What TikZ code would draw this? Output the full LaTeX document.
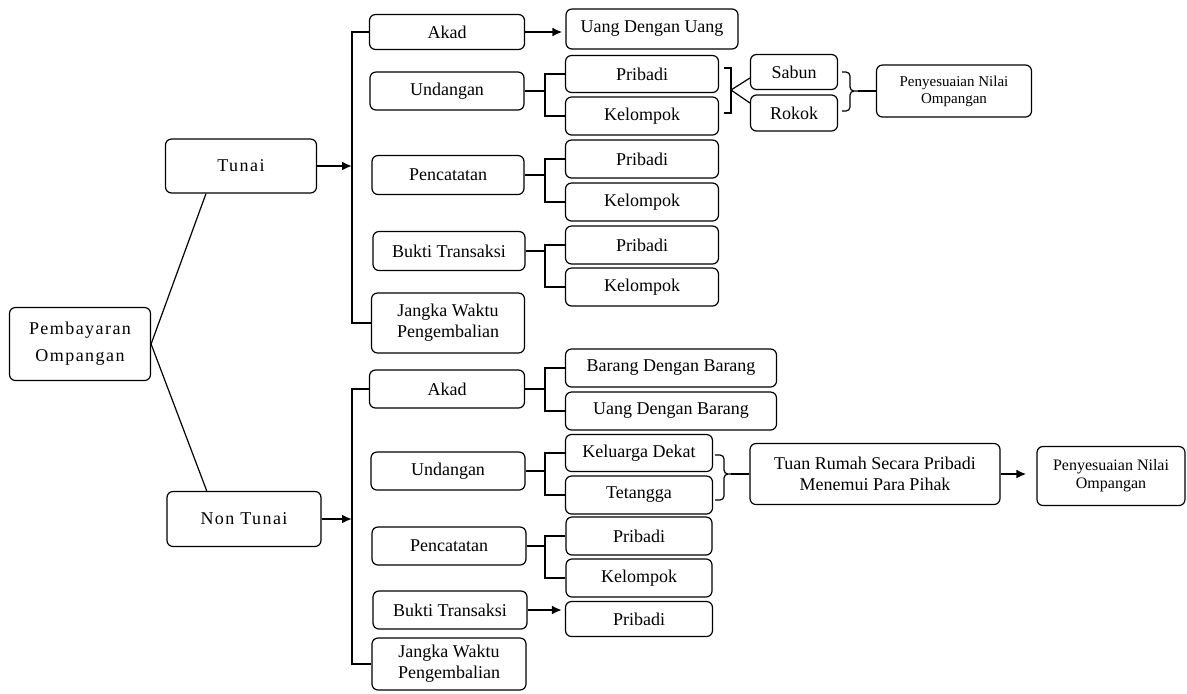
\documentclass[tikz,border=0pt]{standalone}
\usepackage{fontspec}
\setmainfont{Liberation Serif}
\usetikzlibrary{calc, arrows.meta}

\tikzset{
  mainbox/.style={draw, rounded corners=3pt, line width=0.6pt, align=center, inner sep=1pt,
    font=\fontsize{9}{10.5}\selectfont},
  spacedbox/.style={mainbox, font=\fontsize{9}{13.5}\selectfont\addfontfeature{LetterSpace=8}},
  notebox/.style={mainbox, font=\fontsize{7.5}{8.5}\selectfont},
  wh/.style 2 args={minimum width=#1*0.5pt, minimum height=#2*0.5pt},
  fork/.style={line width=1.3pt},
  thinline/.style={line width=0.6pt},
  arr/.style={line width=1.3pt, -{Latex[length=5pt, width=4.5pt]}},
}

\begin{document}
\begin{tikzpicture}[x=0.5pt, y=-0.5pt]
  \useasboundingbox (0,0) rectangle (1187,693);
  % root and the two kinds of payment
  \node[spacedbox, wh={141}{73}] (pemb) at (80,344) {Pembayaran\\Ompangan};
  \node[spacedbox, wh={151}{54}] (tunai) at (241,166) {Tunai};
  \node[spacedbox, wh={154}{55}] (ntunai) at (244,519) {Non Tunai};
  \draw[thinline] (pemb.east) -- ($(tunai.south west)!0.27!(tunai.south east)$);
  \draw[thinline] (pemb.east) -- ($(ntunai.north west)!0.26!(ntunai.north east)$);

  % Tunai
  \coordinate (tspine) at (352,0); \coordinate (cfork) at (545,0);
  \node[mainbox, wh={155}{35}] (tAkad) at (447,32) {Akad};
  \node[mainbox, wh={154}{38}] (tUnd) at (447,91) {Undangan};
  \node[mainbox, wh={152}{39}] (tPen) at (448,175) {Pencatatan};
  \node[mainbox, wh={152}{39}] (tBuk) at (449,251) {Bukti Transaksi};
  \node[mainbox, wh={153}{60}] (tJangka) at (448,323) {Jangka Waktu\\Pengembalian};
  \draw[arr] (tunai.east) -- (tunai.east -| tspine);
  \draw[fork] (tAkad.west) -- (tAkad.west -| tspine) -- (tJangka.west -| tspine) -- (tJangka.west);

  \node[mainbox, wh={172}{40}] (tUang) at (652,29) {Uang Dengan Uang};
  \node[mainbox, wh={153}{37}] (tUndP) at (642,74) {Pribadi};
  \node[mainbox, wh={153}{38}] (tUndK) at (642,116) {Kelompok};
  \node[mainbox, wh={153}{38}] (tPenP) at (642,159) {Pribadi};
  \node[mainbox, wh={153}{38}] (tPenK) at (642,202) {Kelompok};
  \node[mainbox, wh={153}{38}] (tBukP) at (642,245) {Pribadi};
  \node[mainbox, wh={153}{38}] (tBukK) at (642,287) {Kelompok};
  \draw[arr, shorten >=1.5pt] (tAkad.east) -- (tAkad.east -| tUang.west);

  \node[mainbox, wh={87}{35}] (sabun) at (794,72) {Sabun};
  \node[mainbox, wh={87}{36}] (rokok) at (794,113) {Rokok};
  \node[notebox, wh={155}{52}] (tPeny) at (954,91) {Penyesuaian Nilai\\Ompangan};
  \coordinate (tbrk) at (731,90);
  \draw[thinline] ($(tbrk)+(-7,-22)$) -- ++(7,0) -- ++(0,45) -- ++(-7,0);
  \draw[thinline] ($(sabun.west)+(0,6)$) -- (tbrk) -- ($(rokok.west)+(0,-10)$);
  \coordinate (tbrace) at (858,91);
  \draw[thinline, rounded corners=2pt] (842,72) -- (850,72) -- (850,91) -- (tbrace)
    (842,111) -- (850,111) -- (850,91) -- (tbrace);
  \draw[thinline] (tbrace) -- (tPeny.west);

  % Non Tunai
  \node[mainbox, wh={155}{38}] (nAkad) at (447,389) {Akad};
  \node[mainbox, wh={154}{38}] (nUnd) at (448,471) {Undangan};
  \node[mainbox, wh={154}{38}] (nPen) at (449,546) {Pencatatan};
  \node[mainbox, wh={154}{38}] (nBuk) at (450,610) {Bukti Transaksi};
  \node[mainbox, wh={154}{52}] (nJangka) at (449,664) {Jangka Waktu\\Pengembalian};
  \draw[arr] (ntunai.east) -- (ntunai.east -| tspine);
  \draw[fork] (nAkad.west) -- (nAkad.west -| tspine) -- (nJangka.west -| tspine) -- (nJangka.west);

  \node[mainbox, wh={211}{38}] (nBarang) at (671,368) {Barang Dengan Barang};
  \node[mainbox, wh={211}{38}] (nUang) at (671,411) {Uang Dengan Barang};
  \node[mainbox, wh={147}{37}] (nKel) at (639,453) {Keluarga Dekat};
  \node[mainbox, wh={147}{38}] (nTet) at (639,495) {Tetangga};
  \node[mainbox, wh={146}{38}] (nPenP) at (639,536) {Pribadi};
  \node[mainbox, wh={146}{38}] (nPenK) at (639,578) {Kelompok};
  \node[mainbox, wh={147}{35}] (nBukP) at (639,619) {Pribadi};
  \draw[arr, shorten >=1.5pt] (nBuk.east) -- (nBuk.east -| nBukP.west);

  \foreach \p/\a/\b in {tUnd/tUndP/tUndK, tPen/tPenP/tPenK, tBuk/tBukP/tBukK,
      nAkad/nBarang/nUang, nUnd/nKel/nTet, nPen/nPenP/nPenK}
    \draw[fork] (\p.east) -- (\p.east -| cfork) (\a.west) -| (cfork |- \b.west) -- (\b.west);

  \node[mainbox, wh={250}{61}] (nTuan) at (875,474) {Tuan Rumah Secara Pribadi\\Menemui Para Pihak};
  \node[notebox, wh={148}{59}, font=\fontsize{8}{9}\selectfont] (nPeny) at (1111,476) {Penyesuaian Nilai\\Ompangan};
  \coordinate (nbrace) at (731,474);
  \draw[thinline, rounded corners=2pt] (715,455) -- (724,455) -- (724,474) -- (nbrace)
    (715,500) -- (724,500) -- (724,474) -- (nbrace);
  \draw[thinline] (nbrace) -- (nTuan.west);
  \draw[arr, shorten >=5pt] (nTuan.east) -- (nTuan.east -| nPeny.west);
\end{tikzpicture}
\end{document}
